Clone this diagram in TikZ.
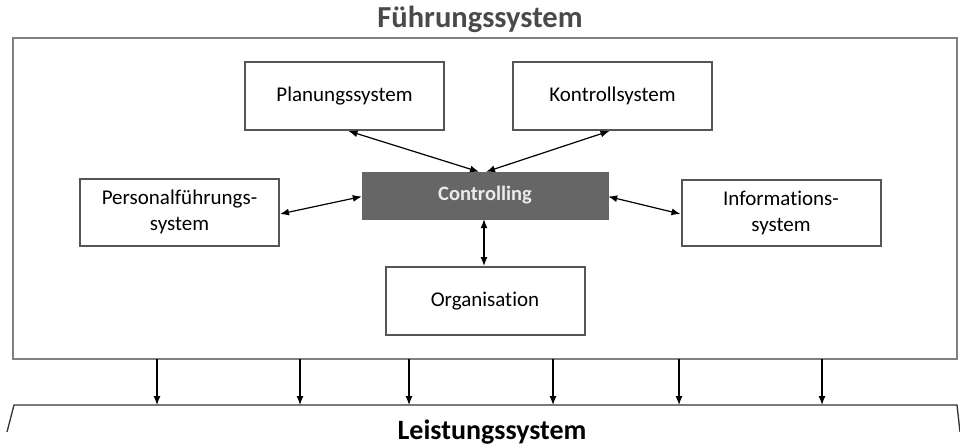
\documentclass[tikz,border=0pt]{standalone}
\usepackage{fontspec}
\setmainfont{Carlito}[Ligatures={NoCommon}]
\usetikzlibrary{arrows.meta}
\definecolor{boxgray}{HTML}{555555}
\definecolor{framegray}{HTML}{808080}
\definecolor{ctrlgray}{HTML}{666666}
\definecolor{titlegray}{HTML}{4A4A4A}
\tikzset{
  sysbox/.style={draw=boxgray, line width=2pt, fill=white, minimum width=199pt, minimum height=68pt, align=center, font=\fontsize{21}{26}\selectfont, inner sep=0pt},
  ctrlbox/.style={fill=ctrlgray, draw=ctrlgray, minimum width=246pt, minimum height=47pt, text=white!92!black, font=\bfseries\fontsize{20.5}{24}\selectfont, inner sep=0pt},
  conn/.style={{Latex[length=9pt,width=7pt]}-{Latex[length=9pt,width=7pt]}, line width=1.2pt, black},
  down/.style={-{Latex[length=9pt,width=7pt]}, line width=1.2pt, black},
  frame/.style={draw=framegray, line width=1.5pt},
  title/.style={font=\bfseries\fontsize{28}{32}\selectfont}
}
\begin{document}
\begin{tikzpicture}[x=1pt,y=-1pt]
\useasboundingbox (0,0) rectangle (960,445);
\node[title, text=titlegray, font=\bfseries\fontsize{30.5}{34}\selectfont] (ft) at (480,19) {Führungssystem};
\draw[frame] (13,38) rectangle (957,359);
\node[sysbox] (plan) at (344.5,96) {Planungssystem};
\node[sysbox] (kont) at (612.5,96) {Kontrollsystem};
\node[sysbox, minimum height=67pt] (pers) at (179.5,212) {Personalführungs-\\system};
\node[sysbox, minimum height=66pt] (info) at (781,213) {Informations-\\system};
\node[ctrlbox] (ctrl) at (485,195.5) {Controlling};
\node[sysbox] (org) at (485,301) {Organisation};
\draw[conn] ([xshift=4pt]plan.south) -- ([xshift=-6pt]ctrl.north);
\draw[conn] ([xshift=-3pt]kont.south) -- ([xshift=1pt]ctrl.north);
\draw[conn] ([yshift=-2pt]pers.east) -- ([yshift=-1pt]ctrl.west);
\draw[conn] ([yshift=-1pt]info.west) -- ([yshift=-1pt]ctrl.east);
\draw[conn] ([xshift=-1pt]ctrl.south) -- ([xshift=-1pt]org.north);
% bottom bracket
\coordinate (bl0) at (7,432);
\coordinate (bl1) at (14,405);
\coordinate (br1) at (957,405);
\coordinate (br0) at (960,432);
\draw[line width=1.3pt, black!80] (bl0) -- (bl1) -- (br1) -- (br0);
\foreach \x in {157,300,409,553,679,822}{
  \coordinate (a\x) at (\x,359);
  \coordinate (b\x) at (\x,405);
  \draw[down] (a\x) -- (b\x);
}
\node[title, text=black] (ls) at (492,432) {Leistungssystem};
\end{tikzpicture}
\end{document}
